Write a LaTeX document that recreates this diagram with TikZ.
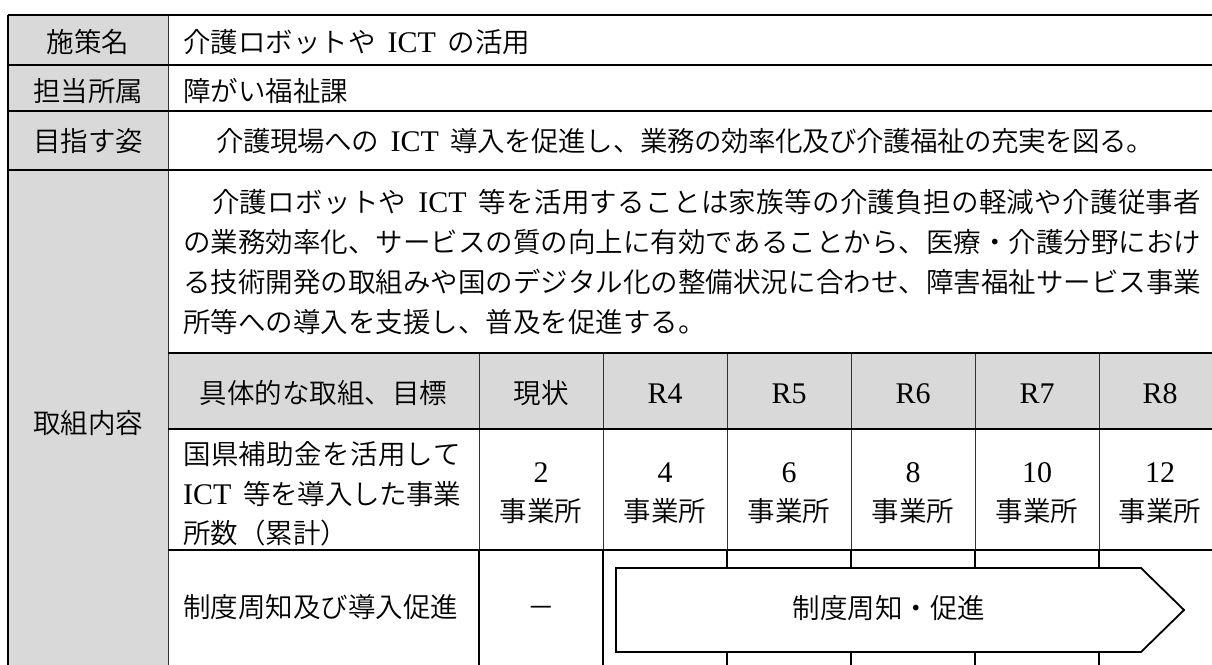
\documentclass[tikz,border=0pt]{standalone}
\usepackage{fontspec}
\IfFontExistsTF{Noto Sans CJK JP DemiLight}{\setmainfont{Noto Sans CJK JP DemiLight}}{\setmainfont{Noto Sans CJK JP}}
\newfontfamily\latf[Scale=1.09]{Liberation Serif}
\newcommand\fs{\fontsize{27.5}{40}\selectfont}
\newcommand\ict{{\latf ICT}}
\newcommand\hs{\hspace{12pt}}
\newcommand\jline[2]{\parbox[b]{#1}{\XeTeXlinebreaklocale "ja"\XeTeXlinebreakskip=0pt plus 6pt minus 1pt\relax\parindent=0pt\parfillskip=0pt\tolerance=10000\relax\leavevmode #2}}
\definecolor{hdr}{HTML}{D9D9D9}
\tikzset{
  hline/.style={line width=1.7pt, black},
  vline/.style={line width=1pt, black!80},
  vlineb/.style={line width=1.3pt, black},
  arrowbox/.style={line width=1.8pt, black, fill=white, line join=miter},
  lbl/.style={anchor=base},
  txt/.style={anchor=base west}
}
\begin{document}
\begin{tikzpicture}[x=1pt,y=-1pt, every node/.style={inner sep=0pt, font=\fs}]
\useasboundingbox (0,0) rectangle (1212,664);
\clip (0,0) rectangle (1212,664);
% fills
\fill[hdr] (8,15) rectangle (168,680);
\fill[hdr] (168,353) rectangle (1240,429);
% vertical lines
\draw[vlineb] (8,15) -- (8,680);
\draw[vline] (168,15) -- (168,680);
\foreach \x in {479,603,727,851,975,1099}{
  \draw[vline] (\x,353) -- (\x,550);
  \draw[vlineb] (\x,550) -- (\x,680);
}
% horizontal lines
\draw[hline] (8,15) -- (1240,15);
\draw[hline] (8,65) -- (1240,65);
\draw[hline] (8,111) -- (1240,111);
\draw[hline] (8,170) -- (1240,170);
\draw[hline] (168,353) -- (1240,353);
\draw[hline] (168,429) -- (1240,429);
\draw[hline] (168,550) -- (1240,550);
% arrow
\draw[arrowbox] (616,568) -- (1141,568) -- (1184,610) -- (1141,652) -- (616,652) -- cycle;
% left labels
\node[lbl] (l1) at (88,52) {施策名};
\node[lbl] (l2) at (88,101) {担当所属};
\node[lbl] (l3) at (88,151) {目指す姿};
\node[lbl] (l4) at (88,433) {取組内容};
% values
\node[txt] (v1) at (183,52) {介護ロボットや\hs\ict\hs の活用};
\node[txt] (v2) at (183,101) {障がい福祉課};
\node[txt] (v3) at (216,151) {\jline{938pt}{介護現場への\hs\ict\hs 導入を促進し、業務の効率化及び介護福祉の充実を図る。}};
% paragraph
\node[txt] (p1) at (183,212) {\jline{1018pt}{\hspace*{29pt}介護ロボットや\hs\ict\hs 等を活用することは家族等の介護負担の軽減や介護従事者}};
\node[txt] (p2) at (183,252) {\jline{1018pt}{の業務効率化、サービスの質の向上に有効であることから、医療・介護分野におけ}};
\node[txt] (p3) at (183,292) {\jline{1018pt}{る技術開発の取組みや国のデジタル化の整備状況に合わせ、障害福祉サービス事業}};
\node[txt] (p4) at (183,332) {所等への導入を支援し、普及を促進する。};
% header row
\node[lbl] (h0) at (323.5,403) {具体的な取組、目標};
\node[lbl] (h1) at (541,403) {現状};
\node[lbl] (h2) at (665,403) {\latf R4};
\node[lbl] (h3) at (789,403) {\latf R5};
\node[lbl] (h4) at (913,403) {\latf R6};
\node[lbl] (h5) at (1037,403) {\latf R7};
\node[lbl] (h6) at (1160,403) {\latf R8};
% data row
\node[txt] (d1) at (183,464) {\jline{278pt}{国県補助金を活用して}};
\node[txt] (d2) at (183,504) {\jline{278pt}{\ict\hs 等を導入した事業}};
\node[txt] (d3) at (183,543) {所数（累計）};
\node[lbl] (n0) at (541,482) {\latf 2};
\node[lbl] (u0) at (541,521) {事業所};
\node[lbl] (n1) at (665,482) {\latf 4};
\node[lbl] (u1) at (665,521) {事業所};
\node[lbl] (n2) at (789,482) {\latf 6};
\node[lbl] (u2) at (789,521) {事業所};
\node[lbl] (n3) at (913,482) {\latf 8};
\node[lbl] (u3) at (913,521) {事業所};
\node[lbl] (n4) at (1037,482) {\latf 10};
\node[lbl] (u4) at (1037,521) {事業所};
\node[lbl] (n5) at (1160,482) {\latf 12};
\node[lbl] (u5) at (1160,521) {事業所};
% last row
\node[txt] (e1) at (183,617) {制度周知及び導入促進};
\node[lbl] (e2) at (541,617) {－};
\node[lbl] (a1) at (889,618) {制度周知・促進};
\end{tikzpicture}
\end{document}
